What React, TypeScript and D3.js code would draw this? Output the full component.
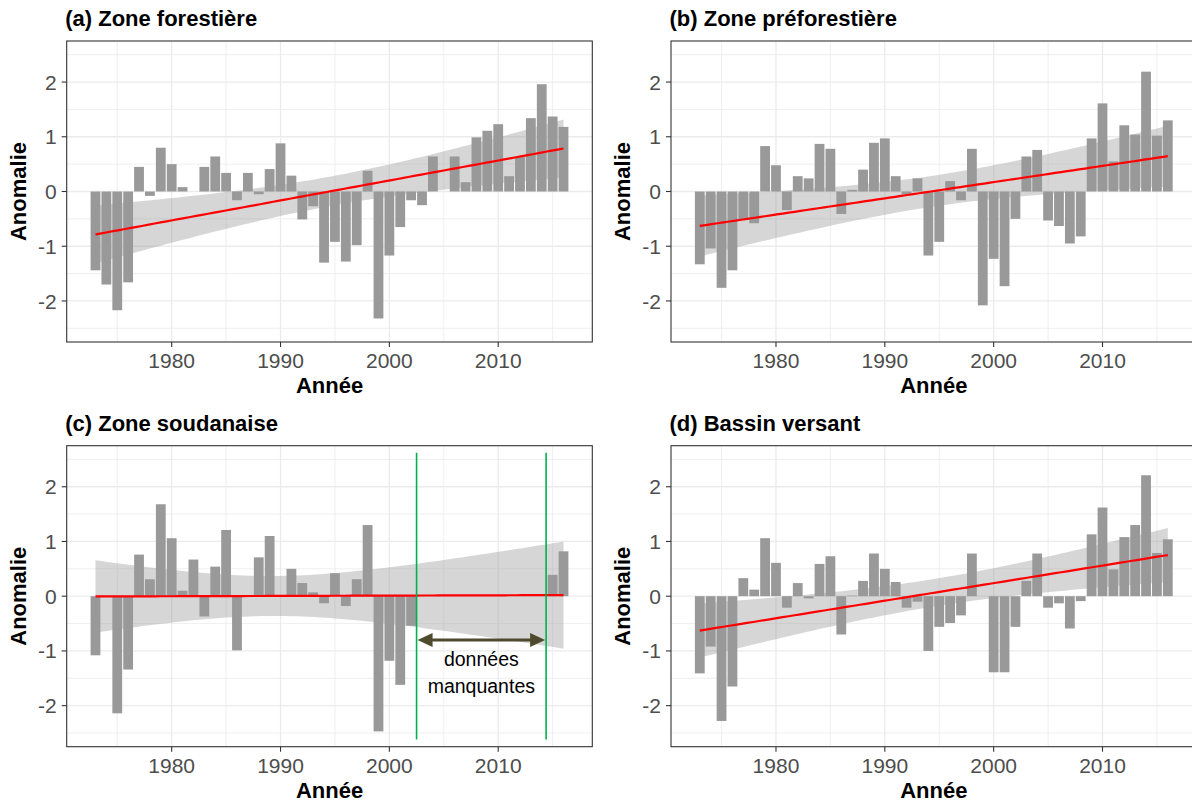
import React from "react";
import * as d3 from "d3";

const YEARS = [
  1973, 1974, 1975, 1976, 1977, 1978, 1979, 1980, 1981, 1982,
  1983, 1984, 1985, 1986, 1987, 1988, 1989, 1990, 1991, 1992,
  1993, 1994, 1995, 1996, 1997, 1998, 1999, 2000, 2001, 2002,
  2003, 2004, 2005, 2006, 2007, 2008, 2009, 2010, 2011, 2012,
  2013, 2014, 2015, 2016,
];

const ZONE_FORESTIERE = [
  -1.44, -1.70, -2.17, -1.66, 0.45, -0.08, 0.80, 0.50, 0.08, 0.00,
  0.45, 0.64, 0.34, -0.16, 0.34, -0.05, 0.41, 0.88, 0.29, -0.51,
  -0.27, -1.30, -0.92, -1.28, -0.98, 0.38, -2.32, -1.17, -0.65, -0.16,
  -0.25, 0.64, 0.00, 0.64, 0.17, 0.99, 1.11, 1.23, 0.28, 0.63,
  1.34, 1.96, 1.37, 1.18,
];

const ZONE_PREFORESTIERE = [
  -1.33, -1.04, -1.76, -1.44, -0.52, -0.58, 0.83, 0.48, -0.34, 0.28,
  0.24, 0.87, 0.78, -0.41, 0.03, 0.40, 0.89, 0.97, 0.28, -0.05,
  0.24, -1.17, -0.92, 0.19, -0.16, 0.78, -2.08, -1.23, -1.73, -0.50,
  0.64, 0.76, -0.53, -0.63, -0.95, -0.82, 0.97, 1.61, 0.55, 1.21,
  1.04, 2.19, 1.02, 1.30,
];

const ZONE_SOUDANAISE: (number | null)[] = [
  -1.08, 0.00, -2.14, -1.34, 0.76, 0.31, 1.68, 1.06, 0.10, 0.67,
  -0.37, 0.54, 1.21, -0.99, 0.00, 0.71, 1.10, 0.00, 0.50, 0.24,
  0.07, -0.13, 0.42, -0.18, 0.31, 1.30, -2.47, -1.18, -1.62, -0.54,
  null, null, null, null, null, null, null, null, null, null,
  null, null, 0.39, 0.82,
];

const BASSIN_VERSANT = [
  -1.41, -0.92, -2.28, -1.65, 0.33, 0.12, 1.06, 0.61, -0.21, 0.24,
  -0.04, 0.59, 0.73, -0.70, 0.01, 0.28, 0.78, 0.50, 0.26, -0.21,
  -0.10, -1.00, -0.56, -0.49, -0.35, 0.78, 0.00, -1.39, -1.39, -0.56,
  0.28, 0.78, -0.21, -0.13, -0.59, -0.09, 1.13, 1.62, 0.49, 1.08,
  1.30, 2.21, 0.79, 1.04,
];

const TITLES = [
  "(a) Zone forestière",
  "(b) Zone préforestière",
  "(c) Zone soudanaise",
  "(d) Bassin versant",
];
const SERIES = [ZONE_FORESTIERE, ZONE_PREFORESTIERE, ZONE_SOUDANAISE, BASSIN_VERSANT];

const X_TICKS = [1980, 1990, 2000, 2010];
const X_MINOR = [1975, 1985, 1995, 2005, 2015];
const Y_TICKS = [-2, -1, 0, 1, 2];
const Y_MINOR = [-2.5, -1.5, -0.5, 0.5, 1.5, 2.5];
const Y_LIMITS = [-2.5, 2.5];

const X_LABEL = "Année";
const Y_LABEL = "Anomalie";

// annotation in panel (c): missing-data window (years) and text
const GAP_WINDOW = [2002.5, 2014.4];
const GAP_ARROW_Y = -0.8;
const GAP_TEXT = ["données", "manquantes"];

// layout
const W = 1192;
const H = 802;
const PW = 525.6;
const PH = 301;
const ORIGINS = [
  [66.7, 41],
  [671, 41],
  [66.7, 445.7],
  [671, 445.7],
];
const FONT = "'Liberation Sans', Arial, Helvetica, sans-serif";

function tQuantile975(df: number) {
  const z = 1.959964;
  const z3 = z * z * z;
  const z5 = z3 * z * z;
  return z + (z3 + z) / (4 * df) + (5 * z5 + 16 * z3 + 3 * z) / (96 * df * df);
}

function fitLm(xs: number[], ys: (number | null)[]) {
  const pts = xs
    .map((x, i) => [x, ys[i]] as [number, number | null])
    .filter((p) => p[1] !== null) as [number, number][];
  const n = pts.length;
  const mx = d3.mean(pts, (p) => p[0]) as number;
  const my = d3.mean(pts, (p) => p[1]) as number;
  const sxx = d3.sum(pts, (p) => (p[0] - mx) ** 2);
  const sxy = d3.sum(pts, (p) => (p[0] - mx) * (p[1] - my));
  const b = sxy / sxx;
  const a = my - b * mx;
  const rss = d3.sum(pts, (p) => (p[1] - (a + b * p[0])) ** 2);
  const s = Math.sqrt(rss / (n - 2));
  const t = tQuantile975(n - 2);
  const x0 = d3.min(pts, (p) => p[0]) as number;
  const x1 = d3.max(pts, (p) => p[0]) as number;
  const grid = d3.range(80).map((i) => x0 + ((x1 - x0) * i) / 79);
  return grid.map((x) => {
    const fit = a + b * x;
    const se = s * Math.sqrt(1 / n + (x - mx) ** 2 / sxx);
    return { x, fit, lo: fit - t * se, hi: fit + t * se };
  });
}

function Panel({ idx }: { idx: number }) {
  const [ox, oy] = ORIGINS[idx];
  const values = SERIES[idx];
  const barW = 0.9;
  const xMin = (d3.min(YEARS) as number) - barW / 2;
  const xMax = (d3.max(YEARS) as number) + barW / 2;
  const xPad = (xMax - xMin) * 0.05;
  const x = d3.scaleLinear().domain([xMin - xPad, xMax + xPad]).range([ox, ox + PW]);
  const yPad = (Y_LIMITS[1] - Y_LIMITS[0]) * 0.05;
  const y = d3.scaleLinear().domain([Y_LIMITS[0] - yPad, Y_LIMITS[1] + yPad]).range([oy + PH, oy]);
  const fit = fitLm(YEARS, values);
  const area = d3
    .area<{ x: number; lo: number; hi: number }>()
    .x((d) => x(d.x))
    .y0((d) => y(d.lo))
    .y1((d) => y(d.hi));
  const line = d3
    .line<{ x: number; fit: number }>()
    .x((d) => x(d.x))
    .y((d) => y(d.fit));
  const clipId = `clip-${idx}`;
  const cx = ox + PW / 2;
  const cy = oy + PH / 2;

  return (
    <g>
      <defs>
        <clipPath id={clipId}>
          <rect x={ox} y={oy} width={PW} height={PH} />
        </clipPath>
      </defs>
      <rect x={ox} y={oy} width={PW} height={PH} fill="#ffffff" />
      <g clipPath={`url(#${clipId})`}>
        {Y_MINOR.map((v) => (
          <line key={`ym${v}`} x1={ox} x2={ox + PW} y1={y(v)} y2={y(v)} stroke="#ebebeb" strokeWidth={0.8} />
        ))}
        {X_MINOR.map((v) => (
          <line key={`xm${v}`} x1={x(v)} x2={x(v)} y1={oy} y2={oy + PH} stroke="#ebebeb" strokeWidth={0.8} />
        ))}
        {Y_TICKS.map((v) => (
          <line key={`yg${v}`} x1={ox} x2={ox + PW} y1={y(v)} y2={y(v)} stroke="#ebebeb" strokeWidth={1.3} />
        ))}
        {X_TICKS.map((v) => (
          <line key={`xg${v}`} x1={x(v)} x2={x(v)} y1={oy} y2={oy + PH} stroke="#ebebeb" strokeWidth={1.3} />
        ))}
        {YEARS.map((yr, i) => {
          const v = values[i];
          if (v === null || v === undefined) return null;
          const y0 = y(0);
          const y1 = y(v);
          return (
            <rect
              key={yr}
              x={x(yr - barW / 2)}
              width={x(yr + barW / 2) - x(yr - barW / 2)}
              y={Math.min(y0, y1)}
              height={Math.abs(y1 - y0)}
              fill="#999999"
            />
          );
        })}
        <path d={area(fit) || ""} fill="#999999" fillOpacity={0.4} />
        <path d={line(fit) || ""} fill="none" stroke="#ff0000" strokeWidth={2.2} />
      </g>
      <rect x={ox} y={oy} width={PW} height={PH} fill="none" stroke="#333333" strokeWidth={1.1} />
      {Y_TICKS.map((v) => (
        <g key={`yt${v}`}>
          <line x1={ox - 5} x2={ox} y1={y(v)} y2={y(v)} stroke="#333333" strokeWidth={1.1} />
          <text x={ox - 10} y={y(v)} dy="0.36em" textAnchor="end" fontSize={21} fill="#4d4d4d" fontFamily={FONT}>
            {v}
          </text>
        </g>
      ))}
      {X_TICKS.map((v) => (
        <g key={`xt${v}`}>
          <line x1={x(v)} x2={x(v)} y1={oy + PH} y2={oy + PH + 5} stroke="#333333" strokeWidth={1.1} />
          <text x={x(v)} y={oy + PH + 26} textAnchor="middle" fontSize={21} fill="#4d4d4d" fontFamily={FONT}>
            {v}
          </text>
        </g>
      ))}
      <text x={cx} y={oy + PH + 51} textAnchor="middle" fontSize={22} fontWeight="bold" fill="#000" fontFamily={FONT}>
        {X_LABEL}
      </text>
      <text
        transform={`translate(${ox - 41},${cy}) rotate(-90)`}
        textAnchor="middle"
        fontSize={22}
        fontWeight="bold"
        fill="#000"
        fontFamily={FONT}
      >
        {Y_LABEL}
      </text>
      <text x={ox - 1.5} y={oy - 15} fontSize={22} fontWeight="bold" fill="#000" fontFamily={FONT}>
        {TITLES[idx]}
      </text>
      {idx === 2 && (
        <g>
          {GAP_WINDOW.map((g) => (
            <line key={`gw${g}`} x1={x(g)} x2={x(g)} y1={y(2.62)} y2={y(-2.62)} stroke="#00b050" strokeWidth={1.6} />
          ))}
          <line
            x1={x(GAP_WINDOW[0]) + 13}
            x2={x(GAP_WINDOW[1]) - 13}
            y1={y(GAP_ARROW_Y)}
            y2={y(GAP_ARROW_Y)}
            stroke="#4d4a2e"
            strokeWidth={3}
          />
          <path
            d={`M${x(GAP_WINDOW[0]) + 1},${y(GAP_ARROW_Y)} l15,-7 l0,14 Z`}
            fill="#4d4a2e"
          />
          <path
            d={`M${x(GAP_WINDOW[1]) - 1},${y(GAP_ARROW_Y)} l-15,-7 l0,14 Z`}
            fill="#4d4a2e"
          />
          <text
            x={(x(GAP_WINDOW[0]) + x(GAP_WINDOW[1])) / 2}
            y={y(GAP_ARROW_Y) + 26}
            textAnchor="middle"
            fontSize={19.5}
            fill="#000"
            fontFamily={FONT}
          >
            {GAP_TEXT[0]}
          </text>
          <text
            x={(x(GAP_WINDOW[0]) + x(GAP_WINDOW[1])) / 2}
            y={y(GAP_ARROW_Y) + 53}
            textAnchor="middle"
            fontSize={19.5}
            fill="#000"
            fontFamily={FONT}
          >
            {GAP_TEXT[1]}
          </text>
        </g>
      )}
    </g>
  );
}

export default function App() {
  return (
    <svg
      width={W}
      height={H}
      viewBox={`0 0 ${W} ${H}`}
      style={{ position: "absolute", left: 0, top: 0, background: "#ffffff" }}
    >
      <rect x={0} y={0} width={W} height={H} fill="#ffffff" />
      {[0, 1, 2, 3].map((i) => (
        <Panel key={i} idx={i} />
      ))}
    </svg>
  );
}
